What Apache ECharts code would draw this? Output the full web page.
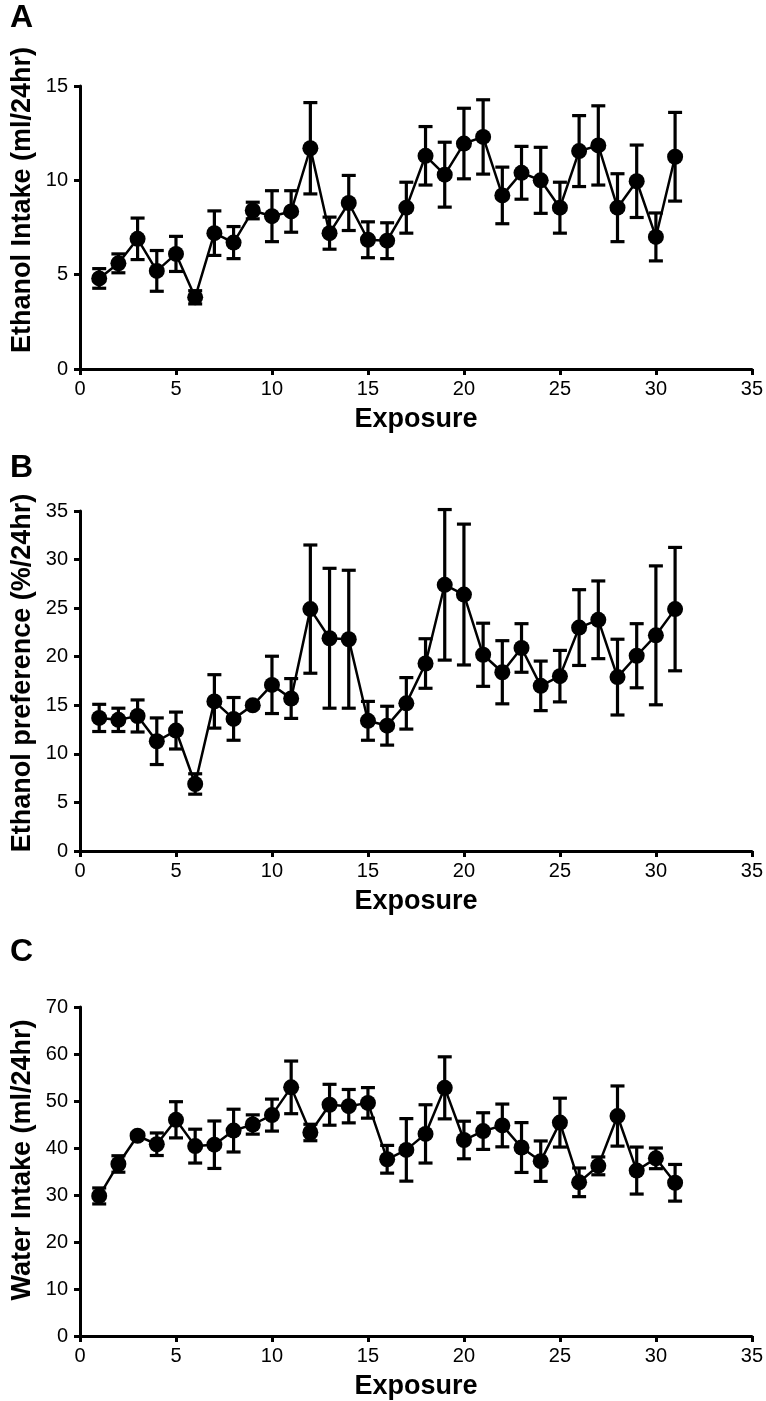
<!DOCTYPE html>
<html><head><meta charset="utf-8">
<script src="https://cdn.jsdelivr.net/npm/echarts@6/dist/echarts.min.js"></script>
<style>html,body{margin:0;padding:0;background:#fff}#c{width:766px;height:1401px}</style>
</head><body><div id="c"></div>
<script>
const exposure = [1,2,3,4,5,6,7,8,9,10,11,12,13,14,15,16,17,18,19,20,21,22,23,24,25,26,27,28,29,30,31];
const xTicks = [0,5,10,15,20,25,30,35];

const ethanolIntakeMean = [4.8,5.6,6.9,5.2,6.1,3.8,7.2,6.7,8.4,8.1,8.35,11.7,7.2,8.8,6.85,6.8,8.55,11.3,10.3,11.95,12.3,9.2,10.4,10.0,8.55,11.55,11.85,8.55,9.95,7.0,11.25];
const ethanolIntakeSem  = [0.52,0.5,1.1,1.08,0.93,0.35,1.18,0.85,0.44,1.35,1.1,2.42,0.85,1.46,0.95,0.95,1.35,1.55,1.72,1.87,1.97,1.5,1.4,1.75,1.35,1.88,2.1,1.8,1.92,1.27,2.35];

const preferenceMean = [13.7,13.5,13.9,11.3,12.4,6.9,15.4,13.6,15.0,17.1,15.7,24.9,21.9,21.8,13.4,12.9,15.2,19.3,27.4,26.4,20.2,18.4,20.9,17.0,18.0,23.0,23.8,17.9,20.1,22.2,24.9];
const preferenceSem  = [1.4,1.2,1.65,2.4,1.9,1.05,2.75,2.2,0.3,2.95,2.05,6.6,7.2,7.1,2.0,2.0,2.65,2.55,7.75,7.25,3.25,3.25,2.5,2.55,2.65,3.9,4.0,3.9,3.3,7.15,6.35];

const waterMean = [29.8,36.6,42.6,40.8,46.0,40.4,40.7,43.7,45.0,47.0,52.9,43.3,49.2,48.9,49.6,37.6,39.6,43.0,52.8,41.7,43.6,44.8,40.1,37.2,45.4,32.7,36.2,46.8,35.2,37.8,32.6];
const waterSem  = [1.7,1.75,0.6,2.4,3.85,3.6,5.05,4.55,2.05,3.4,5.6,1.75,4.35,3.55,3.25,2.95,6.65,6.2,6.6,4.0,3.9,4.55,5.3,4.3,5.2,3.05,1.9,6.4,5.0,2.2,3.9];

const panelLetters = ['A','B','C'];
const yNames = ['Ethanol Intake (ml/24hr)','Ethanol preference (%/24hr)','Water Intake (ml/24hr)'];
const xName = 'Exposure';
const yMax = [15,35,70];
const yStep = [5,5,10];

const FONT = 'Liberation Sans, Arial, sans-serif';
const panels = [
  {mean: ethanolIntakeMean, sem: ethanolIntakeSem, top: 86, height: 283, letterY: 2, titleY: 200},
  {mean: preferenceMean, sem: preferenceSem, top: 511, height: 340, letterY: 452, titleY: 673},
  {mean: waterMean, sem: waterSem, top: 1007, height: 330, letterY: 936, titleY: 1160}
];

const grids = [], xAxes = [], yAxes = [], series = [], graphics = [];
panels.forEach((p, i) => {
  grids.push({left: 80, width: 672, top: p.top, height: p.height});
  xAxes.push({
    type: 'value', gridIndex: i, min: 0, max: 35, interval: 5,
    name: xName, nameLocation: 'middle', nameGap: 37,
    nameTextStyle: {fontFamily: FONT, fontWeight: 'bold', fontSize: 27, color: '#000'},
    axisLine: {lineStyle: {color: '#000', width: 3}},
    axisTick: {show: true, length: 6, lineStyle: {color: '#000', width: 3}},
    axisLabel: {fontFamily: FONT, fontSize: 20, color: '#000', margin: 10},
    splitLine: {show: false}
  });
  yAxes.push({
    type: 'value', gridIndex: i, min: 0, max: yMax[i], interval: yStep[i],
    axisLine: {show: true, lineStyle: {color: '#000', width: 3}},
    axisTick: {show: true, length: 6, lineStyle: {color: '#000', width: 3}},
    axisLabel: {fontFamily: FONT, fontSize: 20, color: '#000', margin: 12},
    splitLine: {show: false}
  });
  const errData = exposure.map((x, k) => [x, p.mean[k] - p.sem[k], p.mean[k] + p.sem[k]]);
  series.push({
    type: 'custom', xAxisIndex: i, yAxisIndex: i, data: errData, z: 3,
    renderItem: function (params, api) {
      const x = api.value(0);
      const a = api.coord([x, api.value(2)]);
      const b = api.coord([x, api.value(1)]);
      const w = 7;
      const st = {stroke: '#000', lineWidth: 3.2};
      return {type: 'group', children: [
        {type: 'line', shape: {x1: a[0], y1: a[1], x2: b[0], y2: b[1]}, style: st},
        {type: 'line', shape: {x1: a[0]-w, y1: a[1], x2: a[0]+w, y2: a[1]}, style: st},
        {type: 'line', shape: {x1: b[0]-w, y1: b[1], x2: b[0]+w, y2: b[1]}, style: st}
      ]};
    }
  });
  series.push({
    type: 'line', xAxisIndex: i, yAxisIndex: i, z: 4,
    data: exposure.map((x, k) => [x, p.mean[k]]),
    symbol: 'circle', symbolSize: 16,
    lineStyle: {color: '#000', width: 2.5},
    itemStyle: {color: '#000'},
    animation: false
  });
  graphics.push({
    type: 'text', left: 10, top: p.letterY,
    style: {text: panelLetters[i], fontFamily: FONT, fontWeight: 'bold', fontSize: 32, fill: '#000'}
  });
  graphics.push({
    type: 'text', x: 23, y: p.titleY, rotation: Math.PI / 2,
    style: {text: yNames[i], fontFamily: FONT, fontWeight: 'bold', fontSize: 27, fill: '#000',
            textAlign: 'center', textVerticalAlign: 'middle'}
  });
});

const chart = echarts.init(document.getElementById('c'), null, {renderer: 'canvas'});
chart.setOption({
  animation: false,
  backgroundColor: '#fff',
  grid: grids, xAxis: xAxes, yAxis: yAxes, series: series, graphic: graphics
});
</script></body></html>
